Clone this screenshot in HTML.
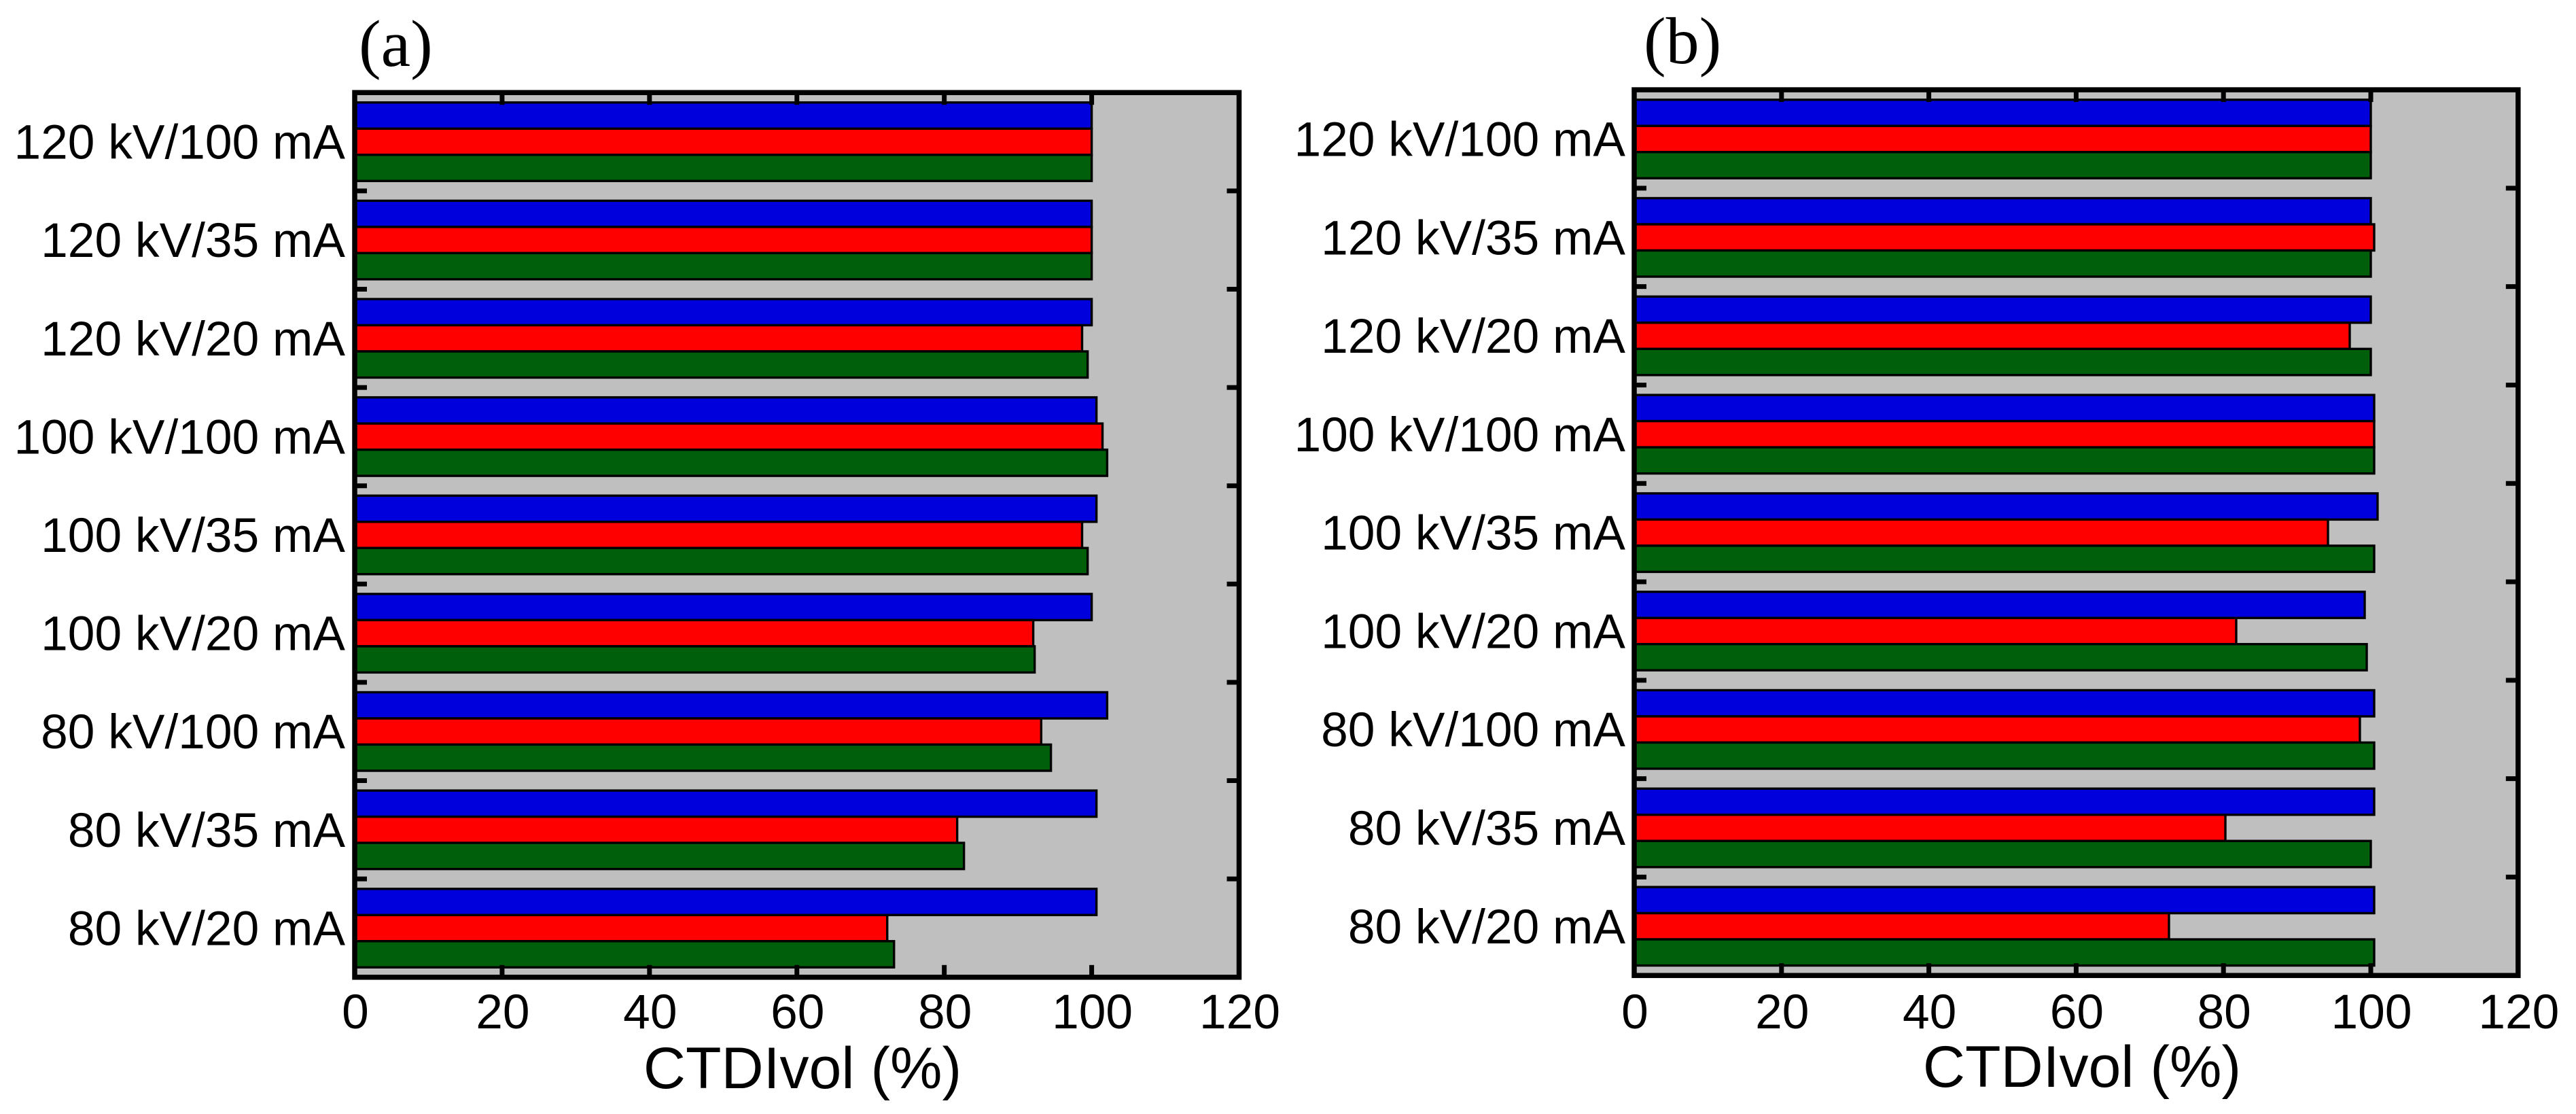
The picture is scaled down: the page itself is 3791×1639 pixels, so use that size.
<!DOCTYPE html>
<html lang="en">
<head>
<meta charset="utf-8">
<title>CTDIvol bar charts</title>
<style>
html,body{margin:0;padding:0;background:#fff;width:3791px;height:1639px;overflow:hidden}
svg{display:block}
text{font-family:"Liberation Sans",sans-serif;fill:#000}
.serif{font-family:"Liberation Serif",serif}
</style>
</head>
<body>
<svg id="figure" xmlns="http://www.w3.org/2000/svg" width="3791" height="1639" viewBox="0 0 3791 1639">
<rect x="0" y="0" width="3791" height="1639" fill="#ffffff"/>
</svg>
<script>
const categories = ["120 kV/100 mA","120 kV/35 mA","120 kV/20 mA","100 kV/100 mA","100 kV/35 mA","100 kV/20 mA","80 kV/100 mA","80 kV/35 mA","80 kV/20 mA"];
const xTickLabels = [0,20,40,60,80,100,120];
const panelABlue  = [100,100,100,100.65,100.65,100,102.1,100.65,100.65];
const panelARed   = [100,100,98.7,101.47,98.7,92.07,93.15,81.75,72.26];
const panelAGreen = [100,100,99.45,102.1,99.45,92.26,94.47,82.67,73.18];
const panelBBlue  = [100,100,100,100.46,100.92,99.17,100.46,100.46,100.46];
const panelBRed   = [100,100.46,97.14,100.46,94.19,81.73,98.52,80.26,72.6];
const panelBGreen = [100,100,100,100.46,100.46,99.45,100.46,100,100.46];
const xTitle = "CTDIvol (%)";

const NS = "http://www.w3.org/2000/svg";
const svg = document.getElementById("figure");
const colors = ["#0000dc","#ff0000","#005f0a"];
const seriesNames = ["blue","red","green"];

function make(tag, attrs, parent, text) {
  const el = document.createElementNS(NS, tag);
  for (const k in attrs) el.setAttribute(k, attrs[k]);
  if (text !== undefined) el.textContent = text;
  parent.appendChild(el);
  return el;
}

function drawPanel(p) {
  const xScale = v => p.left + (v - 0) * (p.right - p.left) / 120;
  const bandH = (p.bottom - p.top) / categories.length;
  const yBand = i => p.top + (i + 0.5) * bandH;
  const barH = 38.5;

  const g = make("g", {}, svg);
  
  

  const bg = make("rect", {x:p.left, y:p.top, width:p.right-p.left, height:p.bottom-p.top, fill:"#bfbfbf"}, g);
  
  

  p.series.forEach((vals, s) => {
    vals.forEach((v, i) => {
      const r = make("rect", {
        x: xScale(0),
        y: yBand(i) - 1.5 * barH + s * barH,
        width: xScale(v) - xScale(0),
        height: barH,
        fill: colors[s],
        stroke: "#000",
        "stroke-width": 3.4
      }, g);
      
      
    });
  });

  xTickLabels.forEach(t => {
    const x = xScale(t);
    if (t !== 0 && t !== 120) {
      const top = make("line", {x1:x, x2:x, y1:p.top, y2:p.top + 18, stroke:"#000", "stroke-width":7}, g);
      
      
      const bot = make("line", {x1:x, x2:x, y1:p.bottom, y2:p.bottom - 18, stroke:"#000", "stroke-width":7}, g);
      
      
    }
    const lab = make("text", {x:x + 1, y:p.xLabelY, "text-anchor":"middle", "font-size":p.fontSize}, g, String(t));
    
    
  });

  categories.forEach((c, i) => {
    if (i > 0) {
      const y = p.top + i * bandH;
      const l = make("line", {x1:p.left, x2:p.left + 18, y1:y, y2:y, stroke:"#000", "stroke-width":7}, g);
      
      
      const r = make("line", {x1:p.right, x2:p.right - 18, y1:y, y2:y, stroke:"#000", "stroke-width":7}, g);
      
      
    }
    const lab = make("text", {x:p.yLabelX, y:yBand(i) + 25, "text-anchor":"end", "font-size":p.fontSize}, g, c);
    
    
  });

  const frame = make("rect", {x:p.left, y:p.top, width:p.right-p.left, height:p.bottom-p.top, fill:"none", stroke:"#000", "stroke-width":7.5}, g);
  
  

  const title = make("text", {x:p.titleX, y:p.titleY, "text-anchor":"middle", "font-size":86}, g, xTitle);
  
  

  const tag = make("text", {x:p.tagX, y:p.tagY, "font-size":98, "class":"serif"}, g, p.tag);
  
  
}

drawPanel({
  id:"a", tag:"(a)",
  left:522, right:1823.5, top:136.2, bottom:1437.8,
  series:[panelABlue, panelARed, panelAGreen],
  fontSize:71.3, yLabelX:508, xLabelY:1513,
  titleX:1181, titleY:1601, tagX:528, tagY:97
});
drawPanel({
  id:"b", tag:"(b)",
  left:2405, right:3705.8, top:132.1, bottom:1435.2,
  series:[panelBBlue, panelBRed, panelBGreen],
  fontSize:71.3, yLabelX:2392, xLabelY:1513,
  titleX:3064, titleY:1599, tagX:2419, tagY:93
});
</script>
</body>
</html>
